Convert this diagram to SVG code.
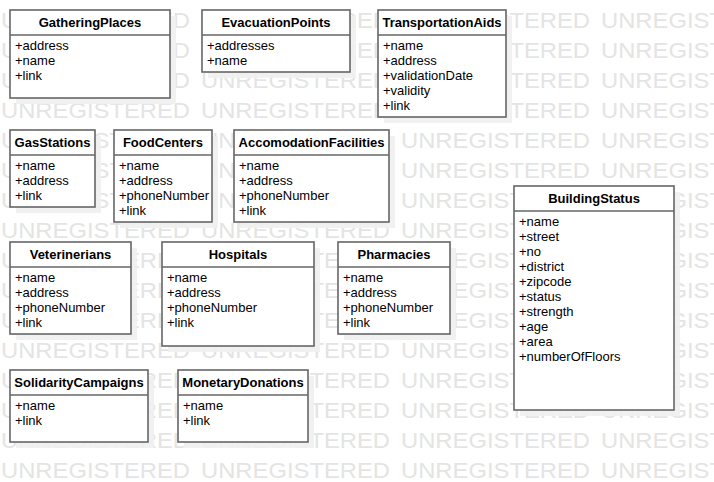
<svg xmlns="http://www.w3.org/2000/svg" width="714" height="482" viewBox="0 0 714 482">
<style>
.wm{font-family:"Liberation Sans",Arial,sans-serif;font-size:22px;fill:#e4e4e4}
.sh{fill:#efefef;fill-opacity:0.9}
.box{fill:#fff;stroke:#666;stroke-width:1.6}
.sep{stroke:#666;stroke-width:1.6}
.hd{font-family:"Liberation Sans",Arial,sans-serif;font-size:13px;font-weight:bold;fill:#000;text-anchor:middle}
.at{font-family:"Liberation Sans",Arial,sans-serif;font-size:13px;fill:#000}
</style>
<rect width="714" height="482" fill="#fff"/>
<g id="watermark">
<text class="wm" x="1" y="28" textLength="189" lengthAdjust="spacingAndGlyphs">UNREGISTERED</text><text class="wm" x="201" y="28" textLength="189" lengthAdjust="spacingAndGlyphs">UNREGISTERED</text><text class="wm" x="401" y="28" textLength="189" lengthAdjust="spacingAndGlyphs">UNREGISTERED</text><text class="wm" x="601" y="28" textLength="189" lengthAdjust="spacingAndGlyphs">UNREGISTERED</text>
<text class="wm" x="1" y="58" textLength="189" lengthAdjust="spacingAndGlyphs">UNREGISTERED</text><text class="wm" x="201" y="58" textLength="189" lengthAdjust="spacingAndGlyphs">UNREGISTERED</text><text class="wm" x="401" y="58" textLength="189" lengthAdjust="spacingAndGlyphs">UNREGISTERED</text><text class="wm" x="601" y="58" textLength="189" lengthAdjust="spacingAndGlyphs">UNREGISTERED</text>
<text class="wm" x="1" y="88" textLength="189" lengthAdjust="spacingAndGlyphs">UNREGISTERED</text><text class="wm" x="201" y="88" textLength="189" lengthAdjust="spacingAndGlyphs">UNREGISTERED</text><text class="wm" x="401" y="88" textLength="189" lengthAdjust="spacingAndGlyphs">UNREGISTERED</text><text class="wm" x="601" y="88" textLength="189" lengthAdjust="spacingAndGlyphs">UNREGISTERED</text>
<text class="wm" x="1" y="118" textLength="189" lengthAdjust="spacingAndGlyphs">UNREGISTERED</text><text class="wm" x="201" y="118" textLength="189" lengthAdjust="spacingAndGlyphs">UNREGISTERED</text><text class="wm" x="401" y="118" textLength="189" lengthAdjust="spacingAndGlyphs">UNREGISTERED</text><text class="wm" x="601" y="118" textLength="189" lengthAdjust="spacingAndGlyphs">UNREGISTERED</text>
<text class="wm" x="1" y="148" textLength="189" lengthAdjust="spacingAndGlyphs">UNREGISTERED</text><text class="wm" x="201" y="148" textLength="189" lengthAdjust="spacingAndGlyphs">UNREGISTERED</text><text class="wm" x="401" y="148" textLength="189" lengthAdjust="spacingAndGlyphs">UNREGISTERED</text><text class="wm" x="601" y="148" textLength="189" lengthAdjust="spacingAndGlyphs">UNREGISTERED</text>
<text class="wm" x="1" y="178" textLength="189" lengthAdjust="spacingAndGlyphs">UNREGISTERED</text><text class="wm" x="201" y="178" textLength="189" lengthAdjust="spacingAndGlyphs">UNREGISTERED</text><text class="wm" x="401" y="178" textLength="189" lengthAdjust="spacingAndGlyphs">UNREGISTERED</text><text class="wm" x="601" y="178" textLength="189" lengthAdjust="spacingAndGlyphs">UNREGISTERED</text>
<text class="wm" x="1" y="208" textLength="189" lengthAdjust="spacingAndGlyphs">UNREGISTERED</text><text class="wm" x="201" y="208" textLength="189" lengthAdjust="spacingAndGlyphs">UNREGISTERED</text><text class="wm" x="401" y="208" textLength="189" lengthAdjust="spacingAndGlyphs">UNREGISTERED</text><text class="wm" x="601" y="208" textLength="189" lengthAdjust="spacingAndGlyphs">UNREGISTERED</text>
<text class="wm" x="1" y="238" textLength="189" lengthAdjust="spacingAndGlyphs">UNREGISTERED</text><text class="wm" x="201" y="238" textLength="189" lengthAdjust="spacingAndGlyphs">UNREGISTERED</text><text class="wm" x="401" y="238" textLength="189" lengthAdjust="spacingAndGlyphs">UNREGISTERED</text><text class="wm" x="601" y="238" textLength="189" lengthAdjust="spacingAndGlyphs">UNREGISTERED</text>
<text class="wm" x="1" y="268" textLength="189" lengthAdjust="spacingAndGlyphs">UNREGISTERED</text><text class="wm" x="201" y="268" textLength="189" lengthAdjust="spacingAndGlyphs">UNREGISTERED</text><text class="wm" x="401" y="268" textLength="189" lengthAdjust="spacingAndGlyphs">UNREGISTERED</text><text class="wm" x="601" y="268" textLength="189" lengthAdjust="spacingAndGlyphs">UNREGISTERED</text>
<text class="wm" x="1" y="298" textLength="189" lengthAdjust="spacingAndGlyphs">UNREGISTERED</text><text class="wm" x="201" y="298" textLength="189" lengthAdjust="spacingAndGlyphs">UNREGISTERED</text><text class="wm" x="401" y="298" textLength="189" lengthAdjust="spacingAndGlyphs">UNREGISTERED</text><text class="wm" x="601" y="298" textLength="189" lengthAdjust="spacingAndGlyphs">UNREGISTERED</text>
<text class="wm" x="1" y="328" textLength="189" lengthAdjust="spacingAndGlyphs">UNREGISTERED</text><text class="wm" x="201" y="328" textLength="189" lengthAdjust="spacingAndGlyphs">UNREGISTERED</text><text class="wm" x="401" y="328" textLength="189" lengthAdjust="spacingAndGlyphs">UNREGISTERED</text><text class="wm" x="601" y="328" textLength="189" lengthAdjust="spacingAndGlyphs">UNREGISTERED</text>
<text class="wm" x="1" y="358" textLength="189" lengthAdjust="spacingAndGlyphs">UNREGISTERED</text><text class="wm" x="201" y="358" textLength="189" lengthAdjust="spacingAndGlyphs">UNREGISTERED</text><text class="wm" x="401" y="358" textLength="189" lengthAdjust="spacingAndGlyphs">UNREGISTERED</text><text class="wm" x="601" y="358" textLength="189" lengthAdjust="spacingAndGlyphs">UNREGISTERED</text>
<text class="wm" x="1" y="388" textLength="189" lengthAdjust="spacingAndGlyphs">UNREGISTERED</text><text class="wm" x="201" y="388" textLength="189" lengthAdjust="spacingAndGlyphs">UNREGISTERED</text><text class="wm" x="401" y="388" textLength="189" lengthAdjust="spacingAndGlyphs">UNREGISTERED</text><text class="wm" x="601" y="388" textLength="189" lengthAdjust="spacingAndGlyphs">UNREGISTERED</text>
<text class="wm" x="1" y="418" textLength="189" lengthAdjust="spacingAndGlyphs">UNREGISTERED</text><text class="wm" x="201" y="418" textLength="189" lengthAdjust="spacingAndGlyphs">UNREGISTERED</text><text class="wm" x="401" y="418" textLength="189" lengthAdjust="spacingAndGlyphs">UNREGISTERED</text><text class="wm" x="601" y="418" textLength="189" lengthAdjust="spacingAndGlyphs">UNREGISTERED</text>
<text class="wm" x="1" y="448" textLength="189" lengthAdjust="spacingAndGlyphs">UNREGISTERED</text><text class="wm" x="201" y="448" textLength="189" lengthAdjust="spacingAndGlyphs">UNREGISTERED</text><text class="wm" x="401" y="448" textLength="189" lengthAdjust="spacingAndGlyphs">UNREGISTERED</text><text class="wm" x="601" y="448" textLength="189" lengthAdjust="spacingAndGlyphs">UNREGISTERED</text>
<text class="wm" x="1" y="478" textLength="189" lengthAdjust="spacingAndGlyphs">UNREGISTERED</text><text class="wm" x="201" y="478" textLength="189" lengthAdjust="spacingAndGlyphs">UNREGISTERED</text><text class="wm" x="401" y="478" textLength="189" lengthAdjust="spacingAndGlyphs">UNREGISTERED</text><text class="wm" x="601" y="478" textLength="189" lengthAdjust="spacingAndGlyphs">UNREGISTERED</text>
</g>
<g id="connectors"></g>
<g id="GatheringPlaces">
<rect class="sh" x="16" y="16" width="160" height="88"/>
<rect class="box" x="10" y="10" width="160" height="88"/>
<line class="sep" x1="10" y1="35" x2="170" y2="35"/>
<text class="hd" x="90" y="27">GatheringPlaces</text>
<text class="at" x="15" y="50">+address</text><text class="at" x="15" y="65">+name</text><text class="at" x="15" y="80">+link</text>
</g>
<g id="EvacuationPoints">
<rect class="sh" x="208" y="16" width="148" height="62"/>
<rect class="box" x="202" y="10" width="148" height="62"/>
<line class="sep" x1="202" y1="35" x2="350" y2="35"/>
<text class="hd" x="276" y="27">EvacuationPoints</text>
<text class="at" x="207" y="50">+addresses</text><text class="at" x="207" y="65">+name</text>
</g>
<g id="TransportationAids">
<rect class="sh" x="384" y="16" width="128" height="107"/>
<rect class="box" x="378" y="10" width="128" height="107"/>
<line class="sep" x1="378" y1="35" x2="506" y2="35"/>
<text class="hd" x="442" y="27">TransportationAids</text>
<text class="at" x="383" y="50">+name</text><text class="at" x="383" y="65">+address</text><text class="at" x="383" y="80">+validationDate</text><text class="at" x="383" y="95">+validity</text><text class="at" x="383" y="110">+link</text>
</g>
<g id="GasStations">
<rect class="sh" x="16" y="136" width="85" height="77"/>
<rect class="box" x="10" y="130" width="85" height="77"/>
<line class="sep" x1="10" y1="155" x2="95" y2="155"/>
<text class="hd" x="52.5" y="147">GasStations</text>
<text class="at" x="15" y="170">+name</text><text class="at" x="15" y="185">+address</text><text class="at" x="15" y="200">+link</text>
</g>
<g id="FoodCenters">
<rect class="sh" x="120" y="136" width="98" height="92"/>
<rect class="box" x="114" y="130" width="98" height="92"/>
<line class="sep" x1="114" y1="155" x2="212" y2="155"/>
<text class="hd" x="163" y="147">FoodCenters</text>
<text class="at" x="119" y="170">+name</text><text class="at" x="119" y="185">+address</text><text class="at" x="119" y="200">+phoneNumber</text><text class="at" x="119" y="215">+link</text>
</g>
<g id="AccomodationFacilities">
<rect class="sh" x="240" y="136" width="155" height="92"/>
<rect class="box" x="234" y="130" width="155" height="92"/>
<line class="sep" x1="234" y1="155" x2="389" y2="155"/>
<text class="hd" x="311.5" y="147">AccomodationFacilities</text>
<text class="at" x="239" y="170">+name</text><text class="at" x="239" y="185">+address</text><text class="at" x="239" y="200">+phoneNumber</text><text class="at" x="239" y="215">+link</text>
</g>
<g id="BuildingStatus">
<rect class="sh" x="520" y="192" width="160" height="224"/>
<rect class="box" x="514" y="186" width="160" height="224"/>
<line class="sep" x1="514" y1="211" x2="674" y2="211"/>
<text class="hd" x="594" y="203">BuildingStatus</text>
<text class="at" x="519" y="226">+name</text><text class="at" x="519" y="241">+street</text><text class="at" x="519" y="256">+no</text><text class="at" x="519" y="271">+district</text><text class="at" x="519" y="286">+zipcode</text><text class="at" x="519" y="301">+status</text><text class="at" x="519" y="316">+strength</text><text class="at" x="519" y="331">+age</text><text class="at" x="519" y="346">+area</text><text class="at" x="519" y="361">+numberOfFloors</text>
</g>
<g id="Veterinerians">
<rect class="sh" x="16" y="248" width="121" height="92"/>
<rect class="box" x="10" y="242" width="121" height="92"/>
<line class="sep" x1="10" y1="267" x2="131" y2="267"/>
<text class="hd" x="70.5" y="259">Veterinerians</text>
<text class="at" x="15" y="282">+name</text><text class="at" x="15" y="297">+address</text><text class="at" x="15" y="312">+phoneNumber</text><text class="at" x="15" y="327">+link</text>
</g>
<g id="Hospitals">
<rect class="sh" x="168" y="248" width="152" height="104"/>
<rect class="box" x="162" y="242" width="152" height="104"/>
<line class="sep" x1="162" y1="267" x2="314" y2="267"/>
<text class="hd" x="238" y="259">Hospitals</text>
<text class="at" x="167" y="282">+name</text><text class="at" x="167" y="297">+address</text><text class="at" x="167" y="312">+phoneNumber</text><text class="at" x="167" y="327">+link</text>
</g>
<g id="Pharmacies">
<rect class="sh" x="344" y="248" width="112" height="92"/>
<rect class="box" x="338" y="242" width="112" height="92"/>
<line class="sep" x1="338" y1="267" x2="450" y2="267"/>
<text class="hd" x="394" y="259">Pharmacies</text>
<text class="at" x="343" y="282">+name</text><text class="at" x="343" y="297">+address</text><text class="at" x="343" y="312">+phoneNumber</text><text class="at" x="343" y="327">+link</text>
</g>
<g id="SolidarityCampaigns">
<rect class="sh" x="16" y="376" width="138" height="72"/>
<rect class="box" x="10" y="370" width="138" height="72"/>
<line class="sep" x1="10" y1="395" x2="148" y2="395"/>
<text class="hd" x="79" y="387">SolidarityCampaigns</text>
<text class="at" x="15" y="410">+name</text><text class="at" x="15" y="425">+link</text>
</g>
<g id="MonetaryDonations">
<rect class="sh" x="184" y="376" width="130" height="72"/>
<rect class="box" x="178" y="370" width="130" height="72"/>
<line class="sep" x1="178" y1="395" x2="308" y2="395"/>
<text class="hd" x="243" y="387">MonetaryDonations</text>
<text class="at" x="183" y="410">+name</text><text class="at" x="183" y="425">+link</text>
</g>
</svg>
